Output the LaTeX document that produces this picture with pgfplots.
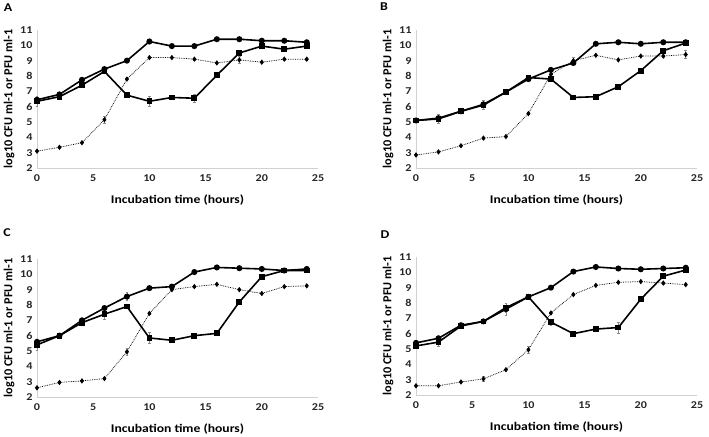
\documentclass[border=0pt]{standalone}
\usepackage{fontspec}
\setmainfont{Carlito}
\newfontfamily\widefont[FakeStretch=1.16]{Carlito}
\usepackage{pgfplots}
\pgfplotsset{compat=1.18}
\usepackage{pgfplotstable}

% x y e
\pgfplotstableread{
x y e
0 6.45 0.1
2 6.8 0.1
4 7.75 0.05
6 8.45 0.05
8 9.0 0.05
10 10.25 0.05
12 9.95 0.05
14 9.95 0.05
16 10.4 0.05
18 10.4 0.05
20 10.3 0.05
22 10.3 0.05
24 10.2 0.05
}\Acirc
\pgfplotstableread{
x y e
0 6.35 0.3
2 6.65 0.2
4 7.4 0.1
6 8.3 0.1
8 6.75 0.1
10 6.35 0.3
12 6.6 0.1
14 6.55 0.25
16 8.05 0.1
18 9.5 0.15
20 9.95 0.15
22 9.75 0.15
24 9.95 0.1
}\Asq
\pgfplotstableread{
x y e
0 3.1 0.05
2 3.35 0.05
4 3.65 0.05
6 5.15 0.25
8 7.8 0.1
10 9.2 0.05
12 9.2 0.05
14 9.1 0.05
16 8.85 0.05
18 9.05 0.25
20 8.9 0.05
22 9.1 0.05
24 9.1 0.05
}\Adia

\pgfplotstableread{
x y e
0 5.1 0.05
2 5.25 0.1
4 5.7 0.05
6 6.15 0.1
8 6.95 0.05
10 7.8 0.05
12 8.4 0.2
14 8.85 0.1
16 10.1 0.05
18 10.2 0.05
20 10.1 0.05
22 10.2 0.05
24 10.2 0.1
}\Bcirc
\pgfplotstableread{
x y e
0 5.1 0.1
2 5.2 0.3
4 5.7 0.05
6 6.1 0.3
8 6.95 0.05
10 7.9 0.1
12 7.8 0.1
14 6.6 0.05
16 6.65 0.05
18 7.3 0.05
20 8.35 0.05
22 9.65 0.05
24 10.15 0.1
}\Bsq
\pgfplotstableread{
x y e
0 2.85 0.05
2 3.05 0.05
4 3.45 0.05
6 3.95 0.05
8 4.05 0.05
10 5.55 0.05
12 8.1 0.1
14 9.0 0.25
16 9.35 0.05
18 9.05 0.05
20 9.3 0.05
22 9.3 0.05
24 9.4 0.25
}\Bdia

\pgfplotstableread{
x y e
0 5.6 0.1
2 6.0 0.05
4 7.0 0.05
6 7.8 0.1
8 8.55 0.25
10 9.1 0.05
12 9.2 0.05
14 10.15 0.05
16 10.45 0.05
18 10.4 0.05
20 10.35 0.05
22 10.25 0.05
24 10.35 0.05
}\Ccirc
\pgfplotstableread{
x y e
0 5.4 0.35
2 6.0 0.05
4 6.85 0.05
6 7.4 0.35
8 7.9 0.1
10 5.85 0.35
12 5.7 0.05
14 6.0 0.05
16 6.15 0.05
18 8.2 0.05
20 9.85 0.05
22 10.25 0.05
24 10.25 0.1
}\Csq
\pgfplotstableread{
x y e
0 2.6 0.05
2 2.95 0.05
4 3.05 0.05
6 3.2 0.05
8 4.95 0.2
10 7.45 0.05
12 9.0 0.05
14 9.2 0.05
16 9.35 0.05
18 9.0 0.05
20 8.75 0.05
22 9.2 0.05
24 9.25 0.05
}\Cdia

\pgfplotstableread{
x y e
0 5.4 0.05
2 5.7 0.1
4 6.55 0.05
6 6.8 0.05
8 7.6 0.4
10 8.4 0.05
12 9.0 0.05
14 10.05 0.05
16 10.35 0.05
18 10.25 0.05
20 10.2 0.05
22 10.25 0.05
24 10.3 0.1
}\Dcirc
\pgfplotstableread{
x y e
0 5.2 0.1
2 5.45 0.3
4 6.5 0.05
6 6.8 0.05
8 7.7 0.3
10 8.4 0.05
12 6.75 0.2
14 6.0 0.05
16 6.3 0.05
18 6.4 0.35
20 8.25 0.05
22 9.75 0.05
24 10.15 0.05
}\Dsq
\pgfplotstableread{
x y e
0 2.6 0.05
2 2.6 0.05
4 2.85 0.05
6 3.05 0.15
8 3.65 0.05
10 4.95 0.2
12 7.35 0.1
14 8.55 0.05
16 9.15 0.05
18 9.35 0.05
20 9.4 0.05
22 9.3 0.05
24 9.2 0.05
}\Ddia

\pgfplotsset{
  panel/.style={
    scale only axis, width=281bp, height=138bp,
    xmin=0, xmax=25, ymin=2, ymax=11,
    xtick={0,5,...,25}, ytick={2,3,...,11},
    axis x line=bottom, axis y line=left,
    axis line style={-, draw=black!18, line width=0.9bp},
    major tick length=0pt,
    /pgf/number format/assume math mode=true,
    tick label style={font=\widefont\bfseries\fontsize{10.5}{12}\selectfont, text=black!85},
    xticklabel style={yshift=-3bp},
    yticklabel style={xshift=-1bp},
    xlabel={Incubation time (hours)},
    ylabel={log10 CFU ml-1 or PFU ml-1},
    xlabel style={font=\widefont\bfseries\fontsize{11.8}{13}\selectfont, yshift=-6bp},
    ylabel style={font=\bfseries\fontsize{12.3}{13}\selectfont, yshift=-1bp},
    clip=false,
    error bars/y dir=both, error bars/y explicit,
    error bars/error bar style={black!45, line width=0.6bp, solid},
    error bars/error mark options={rotate=90, black!45, mark size=1.3bp, line width=0.6bp},
  },
  circ/.style={black, line width=1.6bp, mark=*, mark size=2.2bp},
  sq/.style={black, line width=1.6bp, mark=square*, mark size=2.1bp},
  dia/.style={black, line width=0.75bp, densely dotted, mark=diamond*, mark size=2.1bp, mark options={solid}},
}
\tikzset{letter/.style={font=\widefont\bfseries\fontsize{12}{13}\selectfont}}

\begin{document}
\begin{tikzpicture}
\useasboundingbox (0,0) rectangle (709bp,437bp);
\begin{axis}[panel, at={(37bp,269bp)}, anchor=south west]
\addplot[dia] table[x=x,y=y,y error=e] {\Adia};
\addplot[sq] table[x=x,y=y,y error=e] {\Asq};
\addplot[circ] table[x=x,y=y,y error=e] {\Acirc};
\end{axis}
\begin{axis}[panel, at={(416bp,269bp)}, anchor=south west]
\addplot[dia] table[x=x,y=y,y error=e] {\Bdia};
\addplot[sq] table[x=x,y=y,y error=e] {\Bsq};
\addplot[circ] table[x=x,y=y,y error=e] {\Bcirc};
\end{axis}
\begin{axis}[panel, at={(37bp,40bp)}, anchor=south west]
\addplot[dia] table[x=x,y=y,y error=e] {\Cdia};
\addplot[sq] table[x=x,y=y,y error=e] {\Csq};
\addplot[circ] table[x=x,y=y,y error=e] {\Ccirc};
\end{axis}
\begin{axis}[panel, at={(416bp,42bp)}, anchor=south west]
\addplot[dia] table[x=x,y=y,y error=e] {\Ddia};
\addplot[sq] table[x=x,y=y,y error=e] {\Dsq};
\addplot[circ] table[x=x,y=y,y error=e] {\Dcirc};
\end{axis}
\node[letter] at (8bp,429bp) {A};
\node[letter] at (384bp,430bp) {B};
\node[letter] at (7bp,204bp) {C};
\node[letter] at (385bp,202bp) {D};
\end{tikzpicture}
\end{document}
